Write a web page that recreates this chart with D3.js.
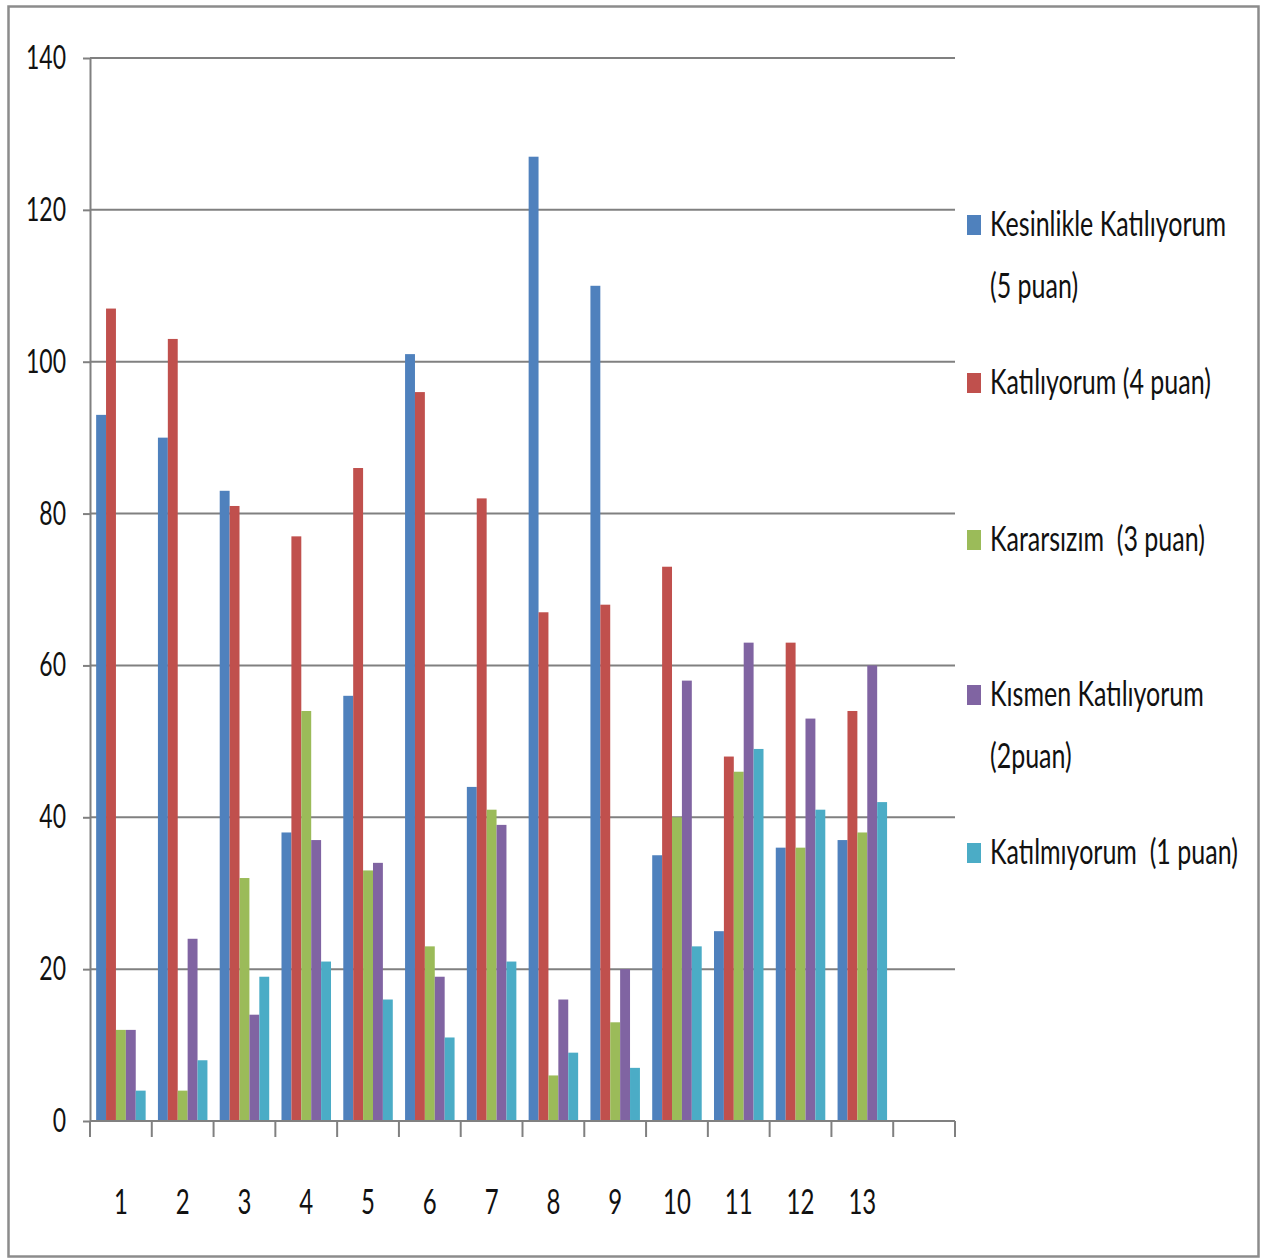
<!DOCTYPE html>
<html>
<head>
<meta charset="utf-8">
<script src="https://cdn.jsdelivr.net/npm/d3@7"></script>
<style>
  body { margin: 0; background: #fff; }
  svg text { font-family: "Lato", "Liberation Sans", sans-serif; fill: #111; }
</style>
</head>
<body>
<svg id="chart" width="1263" height="1259"></svg>
<script>
// categories (14th slot is left empty like in the original)
let categories = ["1","2","3","4","5","6","7","8","9","10","11","12","13",""];
let seriesNames = ["Kesinlikle Katılıyorum (5 puan)", "Katılıyorum (4 puan)", "Kararsızım  (3 puan)",
                   "Kısmen Katılıyorum (2puan)", "Katılmıyorum  (1 puan)"];
let legendLines = [["Kesinlikle Katılıyorum", "(5 puan)"], ["Katılıyorum (4 puan)"], ["Kararsızım  (3 puan)"],
                   ["Kısmen Katılıyorum", "(2puan)"], ["Katılmıyorum  (1 puan)"]];
let colors = ["#4F81BD", "#C0504D", "#9BBB59", "#8064A2", "#4BACC6"];

let kesinlikle = [93, 90, 83, 38, 56, 101, 44, 127, 110, 35, 25, 36, 37];
let katiliyorum = [107, 103, 81, 77, 86, 96, 82, 67, 68, 73, 48, 63, 54];
let kararsizim = [12, 4, 32, 54, 33, 23, 41, 6, 13, 40, 46, 36, 38];
let kismen = [12, 24, 14, 37, 34, 19, 39, 16, 20, 58, 63, 53, 60];
let katilmiyorum = [4, 8, 19, 21, 16, 11, 21, 9, 7, 23, 49, 41, 42];
let series = [kesinlikle, katiliyorum, kararsizim, kismen, katilmiyorum];

let yTicks = [0, 20, 40, 60, 80, 100, 120, 140];

var svg = d3.select("#chart");
var stretch = 1.45; // the original picture is stretched vertically

// outer frame
svg.append("rect")
    .attr("x", 8.5).attr("y", 6.5)
    .attr("width", 1250).attr("height", 1250)
    .attr("fill", "none")
    .attr("stroke", "#8c8c8c")
    .attr("stroke-width", 2.5);

let plotLeft = 90, plotRight = 955, plotTop = 58, plotBottom = 1121;

var x = d3.scaleBand().domain(d3.range(categories.length)).range([plotLeft, plotRight]).paddingInner(0).paddingOuter(0);
var xSub = d3.scaleBand().domain(d3.range(series.length)).range([0, x.bandwidth()]).paddingInner(0).paddingOuter(0.62);
var y = d3.scaleLinear().domain([0, 140]).range([plotBottom, plotTop]);

// gridlines
svg.append("g")
    .selectAll("line")
    .data(yTicks.filter(d => d > 0))
    .enter().append("line")
    .attr("x1", plotLeft).attr("x2", plotRight)
    .attr("y1", d => y(d)).attr("y2", d => y(d))
    .attr("stroke", "#808080")
    .attr("stroke-width", 2);

// bars
for(let s in series){
    svg.append("g")
        .attr("class", "series")
        .selectAll("rect")
        .data(series[s])
        .enter().append("rect")
        .attr("x", (d, i) => x(i) + xSub(+s))
        .attr("y", d => y(d))
        .attr("width", xSub.bandwidth())
        .attr("height", d => y(0) - y(d))
        .attr("fill", colors[s]);
}

// y axis
var yAxis = d3.axisLeft(y).tickValues(yTicks).tickSize(7).tickSizeOuter(0).tickFormat("");
var gy = svg.append("g").attr("transform", "translate(" + plotLeft + ",0)").call(yAxis);
gy.selectAll("path, line").attr("stroke", "#808080").attr("stroke-width", 2);

svg.append("g")
    .selectAll("text")
    .data(yTicks)
    .enter().append("text")
    .attr("transform", d => "translate(66," + (y(d) + 11) + ") scale(1," + stretch + ")")
    .attr("text-anchor", "end")
    .style("font-size", "23px")
    .text(d => d);

// x axis
svg.append("line")
    .attr("x1", plotLeft).attr("x2", plotRight)
    .attr("y1", y(0)).attr("y2", y(0))
    .attr("stroke", "#808080").attr("stroke-width", 2);
svg.append("g")
    .selectAll("line")
    .data(d3.range(categories.length + 1))
    .enter().append("line")
    .attr("x1", i => plotLeft + i * x.step()).attr("x2", i => plotLeft + i * x.step())
    .attr("y1", y(0)).attr("y2", y(0) + 16)
    .attr("stroke", "#808080").attr("stroke-width", 2);

svg.append("g")
    .selectAll("text")
    .data(categories)
    .enter().append("text")
    .attr("transform", (d, i) => "translate(" + (x(i) + x.bandwidth() / 2) + ",1214) scale(1," + stretch + ")")
    .attr("text-anchor", "middle")
    .style("font-size", "24px")
    .text(d => d);

// legend
let legendY = [225, 383, 540, 695, 853];
var legend = svg.append("g");
for(let i in legendLines){
    legend.append("rect")
        .attr("x", 967).attr("y", legendY[i] - 10)
        .attr("width", 14).attr("height", 20)
        .attr("fill", colors[i]);
    legendLines[i].forEach(function(line, j){
        legend.append("text")
            .attr("transform", "translate(990," + (legendY[i] + 11 + j * 62) + ") scale(1,1.4)")
            .style("font-size", "25px")
            .style("white-space", "pre")
            .text(line);
    });
}
</script>
</body>
</html>
